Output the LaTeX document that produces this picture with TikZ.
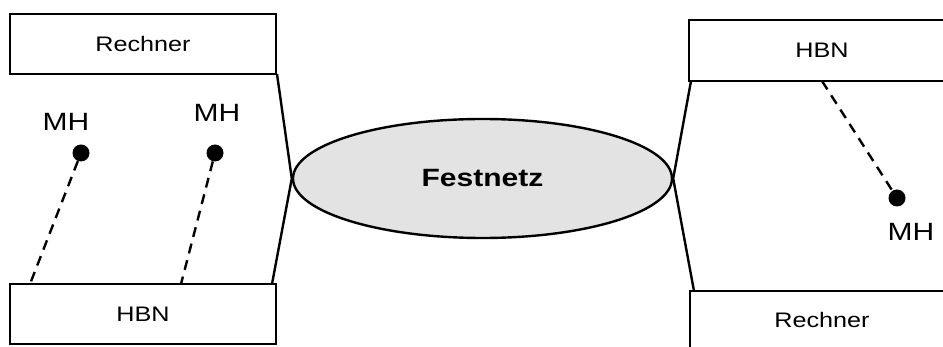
\documentclass[tikz,border=0pt]{standalone}
\usepackage{fontspec}
\setmainfont{Liberation Sans}
\newfontfamily\widesans[FakeStretch=1.2]{Liberation Sans}
\usetikzlibrary{shapes.geometric}
\begin{document}
\begin{tikzpicture}[x=1pt,y=-1pt,
  boxnode/.style={draw,line width=2.4pt,rectangle,inner sep=0pt,font=\widesans\fontsize{21}{24}\selectfont},
  conn/.style={line width=2.4pt},
  dashconn/.style={line width=2.4pt,dash pattern=on 10pt off 7pt},
  dot/.style={circle,fill=black,inner sep=0pt,minimum size=17pt},
  mhlabel/.style={font=\widesans\fontsize{25}{28}\selectfont,inner sep=0pt}]
\useasboundingbox (0,0) rectangle (943,347);
\clip (0,0) rectangle (943,347);
\node[boxnode,minimum width=266pt,minimum height=60pt] (r1) at (143,44) {Rechner};
\node[boxnode,minimum width=266pt,minimum height=60pt] (h1) at (143,314) {HBN};
\node[boxnode,minimum width=266pt,minimum height=61pt] (h2) at (822,50.5) {HBN};
\node[boxnode,minimum width=264pt,minimum height=58pt] (r2) at (822,320) {Rechner};
\node[ellipse,draw,line width=2.4pt,fill=black!11,minimum width=379pt,minimum height=119pt,inner sep=0pt,font=\widesans\bfseries\fontsize{25}{28}\selectfont] (fn) at (482.5,178.5) {Festnetz};
\coordinate (c1) at (277,74);
\coordinate (c2) at (272,284);
\coordinate (c3) at (691,81);
\coordinate (c4) at (694,291);
\draw[conn] (c1) -- (fn.west) -- (c2);
\draw[conn] (c3) -- (fn.east) -- (c4);
\node[dot] (d1) at (81,153) {};
\node[dot] (d2) at (215,153) {};
\node[dot] (d3) at (897,198) {};
\node[mhlabel] (m1) at (66,122) {MH};
\node[mhlabel] (m2) at (217,113) {MH};
\node[mhlabel] (m3) at (911,232) {MH};
\coordinate (e1) at (30,284);
\coordinate (e2) at (181,284);
\coordinate (e3) at (822,81);
\draw[dashconn] (d1) -- (e1);
\draw[dashconn] (d2) -- (e2);
\draw[dashconn] (e3) -- (d3);
\end{tikzpicture}
\end{document}
